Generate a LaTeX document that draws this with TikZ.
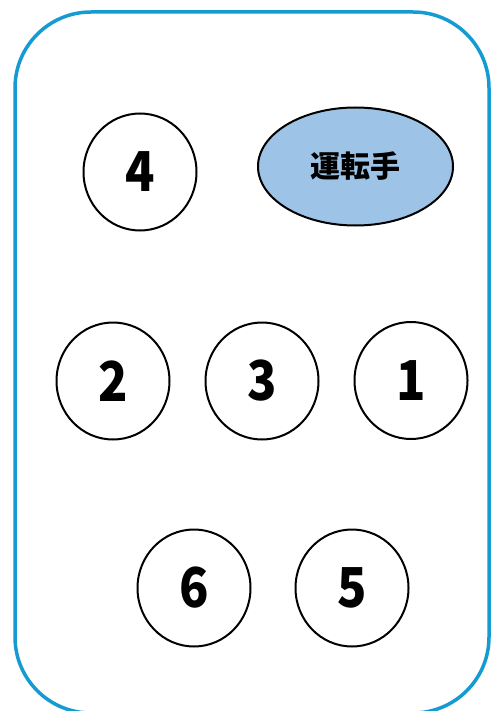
\documentclass[tikz,border=0pt]{standalone}
\usepackage{fontspec}
\setmainfont{Noto Sans CJK JP}
\usetikzlibrary{shapes.geometric}
\definecolor{frameblue}{RGB}{20,155,210}
\definecolor{ellfill}{RGB}{157,195,230}
\newcommand{\seatnum}[1]{\scalebox{0.88}[1]{#1}}
\begin{document}
\begin{tikzpicture}[x=1pt,y=-1pt,
  seat/.style={draw=black,line width=2pt,ellipse,minimum width=113pt,minimum height=117pt,inner sep=0pt,font=\fontsize{55}{55}\selectfont\bfseries},
  driver/.style={draw=black,line width=2pt,ellipse,minimum width=195pt,minimum height=118pt,inner sep=0pt,fill=ellfill,font=\fontsize{30}{30}\selectfont\bfseries}]
\useasboundingbox (0,0) rectangle (491,711);
\draw[frameblue,line width=3.5pt,rounded corners=76pt] (15,12) rectangle (489,713);
\node[seat] (s4) at (140,172) {\seatnum{4}};
\node[driver] (d) at (355.5,166.5) {運転手};
\node[seat] (s2) at (113,381) {\seatnum{2}};
\node[seat] (s3) at (262,381) {\seatnum{3}};
\node[seat] (s1) at (411,380.5) {\seatnum{1}};
\node[seat] (s6) at (194,588) {\seatnum{6}};
\node[seat] (s5) at (352,588) {\seatnum{5}};
\end{tikzpicture}
\end{document}
